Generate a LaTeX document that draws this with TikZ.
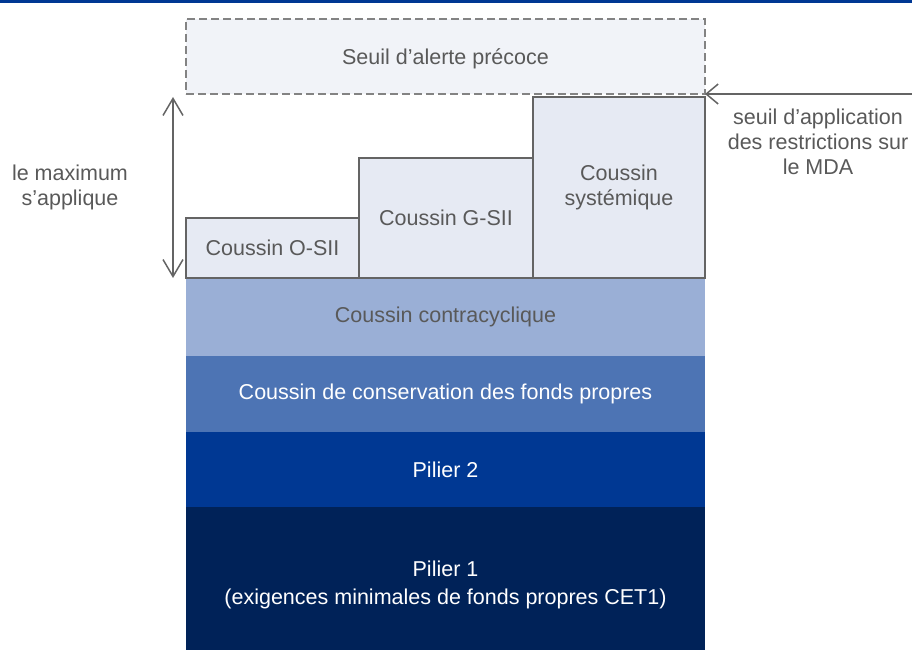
\documentclass[tikz,border=0pt]{standalone}
\usepackage{fontspec}
\setmainfont{Liberation Sans}
\usetikzlibrary{positioning,arrows.meta}
\definecolor{barblue}{RGB}{0,56,147}
\definecolor{ccycblue}{RGB}{154,175,214}
\definecolor{consblue}{RGB}{77,116,180}
\definecolor{pildeux}{RGB}{0,56,147}
\definecolor{pilun}{RGB}{0,34,88}
\definecolor{lightbox}{RGB}{230,234,243}
\definecolor{alertbox}{RGB}{241,243,248}
\definecolor{textgray}{RGB}{89,89,89}
\definecolor{linegray}{RGB}{100,100,100}

\begin{document}
\begin{tikzpicture}[x=1pt,y=-1pt,
	font=\fontsize{21.5}{25}\selectfont,
	layer/.style={rectangle,inner sep=0pt,outer sep=0pt,minimum width=519pt,align=center,text=white},
	coussin/.style={rectangle,draw=linegray,line width=1.5pt,fill=lightbox,inner sep=0pt,outer sep=0pt,align=center,text=textgray,anchor=south west},
	note/.style={align=center,text=textgray},
	dimarrow/.style={draw=linegray,line width=1.5pt,{Straight Barb[length=17pt,width=20pt]}-{Straight Barb[length=17pt,width=20pt]}},
	mdaarrow/.style={draw=linegray,line width=1.5pt,-{Straight Barb[length=12pt,width=20pt]}}]
	\useasboundingbox (0,0) rectangle (912,650);
	\fill[barblue] (0,0) rectangle (912,3);
	% piliers et coussins empiles
	\node[layer,fill=pilun,minimum height=143pt,anchor=south west] (pilier1) at (186,650) {\rule{0pt}{28pt}Pilier 1\\[3pt](exigences minimales de fonds propres CET1)};
	\node[layer,fill=pildeux,minimum height=75pt,above=0pt of pilier1] (pilier2) {Pilier 2};
	\node[layer,fill=consblue,minimum height=76pt,above=0pt of pilier2] (conservation) {Coussin de conservation des fonds propres};
	\node[layer,fill=ccycblue,minimum height=78pt,above=0pt of conservation,text=textgray] (contracyc) {Coussin contracyclique};
	% coussins systemiques
	\node[coussin,minimum width=173pt,minimum height=60pt] (osii) at (contracyc.north west) {Coussin O-SII};
	\node[coussin,minimum width=174pt,minimum height=120pt] (gsii) at (osii.south east) {Coussin G-SII};
	\node[coussin,minimum width=172pt,minimum height=181pt] (systemique) at (gsii.south east) {Coussin\\systémique};
	\node[coussin,draw=linegray!80,dash pattern=on 8pt off 4pt,fill=alertbox,minimum width=519pt,minimum height=75pt] (alerte) at (186,94) {\rule{0pt}{21pt}Seuil d’alerte précoce};
	% fleches et notes
	\coordinate (maxhaut) at (173,97);
	\coordinate (maxbas) at (173,278);
	\draw[dimarrow] (maxhaut) -- (maxbas);
	\node[note] (maximum) at (70,187) {le maximum\\s’applique};
	\coordinate (mdadepart) at (912,94);
	\draw[mdaarrow] (mdadepart) -- (alerte.south east);
	\node[note] (mda) at (818,142) {seuil d’application\\des restrictions sur\\le MDA};
\end{tikzpicture}
\end{document}
